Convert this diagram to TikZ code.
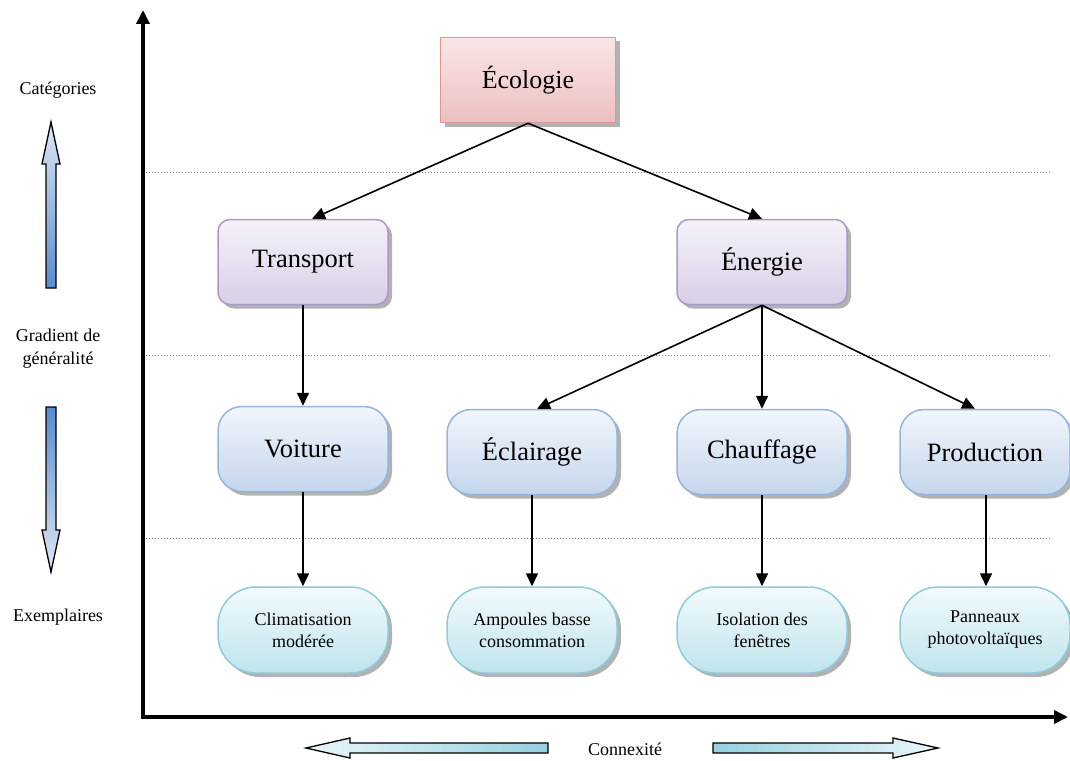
\documentclass[tikz,border=0pt]{standalone}
\usepackage{fontspec}
\setmainfont{Liberation Serif}
\usetikzlibrary{shadows,arrows.meta,calc}
\definecolor{ecotop}{RGB}{250,230,230}
\definecolor{ecobot}{RGB}{236,192,192}
\definecolor{ecodraw}{RGB}{222,150,150}
\definecolor{cattop}{RGB}{246,242,250}
\definecolor{catbot}{RGB}{216,206,230}
\definecolor{catdraw}{RGB}{170,152,200}
\definecolor{subtop}{RGB}{242,246,252}
\definecolor{subbot}{RGB}{196,214,236}
\definecolor{subdraw}{RGB}{148,180,220}
\definecolor{leaftop}{RGB}{242,250,252}
\definecolor{leafbot}{RGB}{192,228,236}
\definecolor{leafdraw}{RGB}{140,204,220}
\definecolor{arrblue}{RGB}{88,140,206}
\definecolor{arrlight}{RGB}{222,232,244}
\definecolor{arrcyan}{RGB}{150,208,222}
\definecolor{arrcl}{RGB}{232,246,250}
\tikzset{
  shad/.style={drop shadow={shadow xshift=4pt,shadow yshift=-4pt,fill=gray!60,opacity=1}},
  ecobox/.style={shad,draw=ecodraw,line width=1.5pt,top color=ecotop,bottom color=ecobot,
    minimum width=175pt,minimum height=85pt,inner sep=0pt,font=\fontsize{26}{30}\selectfont},
  catbox/.style={shad,draw=catdraw,line width=1.5pt,top color=cattop,bottom color=catbot,rounded corners=12pt,
    minimum width=170pt,minimum height=85pt,inner sep=0pt,font=\fontsize{26.5}{30}\selectfont},
  subbox/.style={shad,draw=subdraw,line width=1.5pt,top color=subtop,bottom color=subbot,rounded corners=24pt,
    minimum width=170pt,minimum height=85pt,inner sep=0pt,font=\fontsize{26.5}{30}\selectfont},
  leafbox/.style={shad,draw=leafdraw,line width=1.5pt,top color=leaftop,bottom color=leafbot,rounded corners=38pt,
    minimum width=170pt,minimum height=86pt,inner sep=0pt,align=center,font=\fontsize{18}{22}\selectfont},
  conn/.style={-{Triangle[length=13pt,width=12pt]},line width=1.6pt},
  axis/.style={-{Triangle[length=14pt,width=13pt]},line width=4pt},
  sep/.style={gray,dotted,line width=1pt},
  side/.style={font=\fontsize{18}{23}\selectfont,align=center},
}
\begin{document}
\begin{tikzpicture}[x=1pt,y=-1pt]
\useasboundingbox (0,0) rectangle (1070,760);
% separators
\coordinate (s1a) at (143,172); \coordinate (s1b) at (1052,172);
\coordinate (s2a) at (143,355); \coordinate (s2b) at (1052,355);
\coordinate (s3a) at (143,538); \coordinate (s3b) at (1052,538);
\draw[sep] (s1a) -- (s1b);
\draw[sep] (s2a) -- (s2b);
\draw[sep] (s3a) -- (s3b);
% axes
\coordinate (o) at (143,717);
\coordinate (ytop) at (143,10);
\coordinate (xend) at (1068,717);
\draw[axis] ($(o)+(0,2)$) -- (ytop);
\draw[axis] ($(o)+(-2,0)$) -- (xend);
% nodes
\node[ecobox] (eco) at (528,80) {Écologie};
\node[catbox] (tra) at (303,262) {Transport};
\node[catbox] (ene) at (762,262) {Énergie};
\node[subbox] (voi) at (303,449) {Voiture};
\node[subbox] (ecl) at (532,452) {Éclairage};
\node[subbox] (cha) at (762,452) {Chauffage};
\node[subbox] (pro) at (985,452) {Production};
\node[leafbox] (cli) at (303,630) {Climatisation\\modérée};
\node[leafbox] (amp) at (532,630) {Ampoules basse\\consommation};
\node[leafbox] (iso) at (762,630) {Isolation des\\fenêtres};
\node[leafbox] (pan) at (985,630) {Panneaux\\photovoltaïques};
% connectors
\draw[conn] (eco.south) -- ($(tra.north)+(9,0)$);
\draw[conn] (eco.south) -- (ene.north);
\draw[conn] (tra.south) -- (voi.north);
\draw[conn] (ene.south) -- ($(ecl.north)+(5,0)$);
\draw[conn] (ene.south) -- (cha.north);
\draw[conn] (ene.south) -- ($(pro.north)+(-10,0)$);
\draw[conn] (voi.south) -- (cli.north);
\draw[conn] (ecl.south) -- (amp.north);
\draw[conn] (cha.south) -- (iso.north);
\draw[conn] ($(pro.south)+(1,0)$) -- ($(pan.north)+(1,0)$);
% side labels
\node[side] (lcat) at (58,90) {Catégories};
\node[side] (lgra) at (58,349) {Gradient de\\généralité};
\node[side] (lexe) at (58,617) {Exemplaires};
\node[side] (lcon) at (625,749) {Connexité};
% big hollow arrows
\shade[top color=arrlight,bottom color=arrblue,draw=black,line width=1.3pt]
  (46,288) -- (46,164) -- (42,164) -- (51,122) -- (60,164) -- (56,164) -- (56,288) -- cycle;
\shade[top color=arrblue,bottom color=arrlight,draw=black,line width=1.3pt]
  (46,407) -- (46,530) -- (42,530) -- (51,572) -- (60,530) -- (56,530) -- (56,407) -- cycle;
\shade[left color=arrcl,right color=arrcyan,draw=black,line width=1.3pt]
  (548,743) -- (350,743) -- (350,738) -- (306,748) -- (350,758) -- (350,753) -- (548,753) -- cycle;
\shade[left color=arrcyan,right color=arrcl,draw=black,line width=1.3pt]
  (713,743) -- (893,743) -- (893,738) -- (938,748) -- (893,758) -- (893,753) -- (713,753) -- cycle;
\end{tikzpicture}
\end{document}
